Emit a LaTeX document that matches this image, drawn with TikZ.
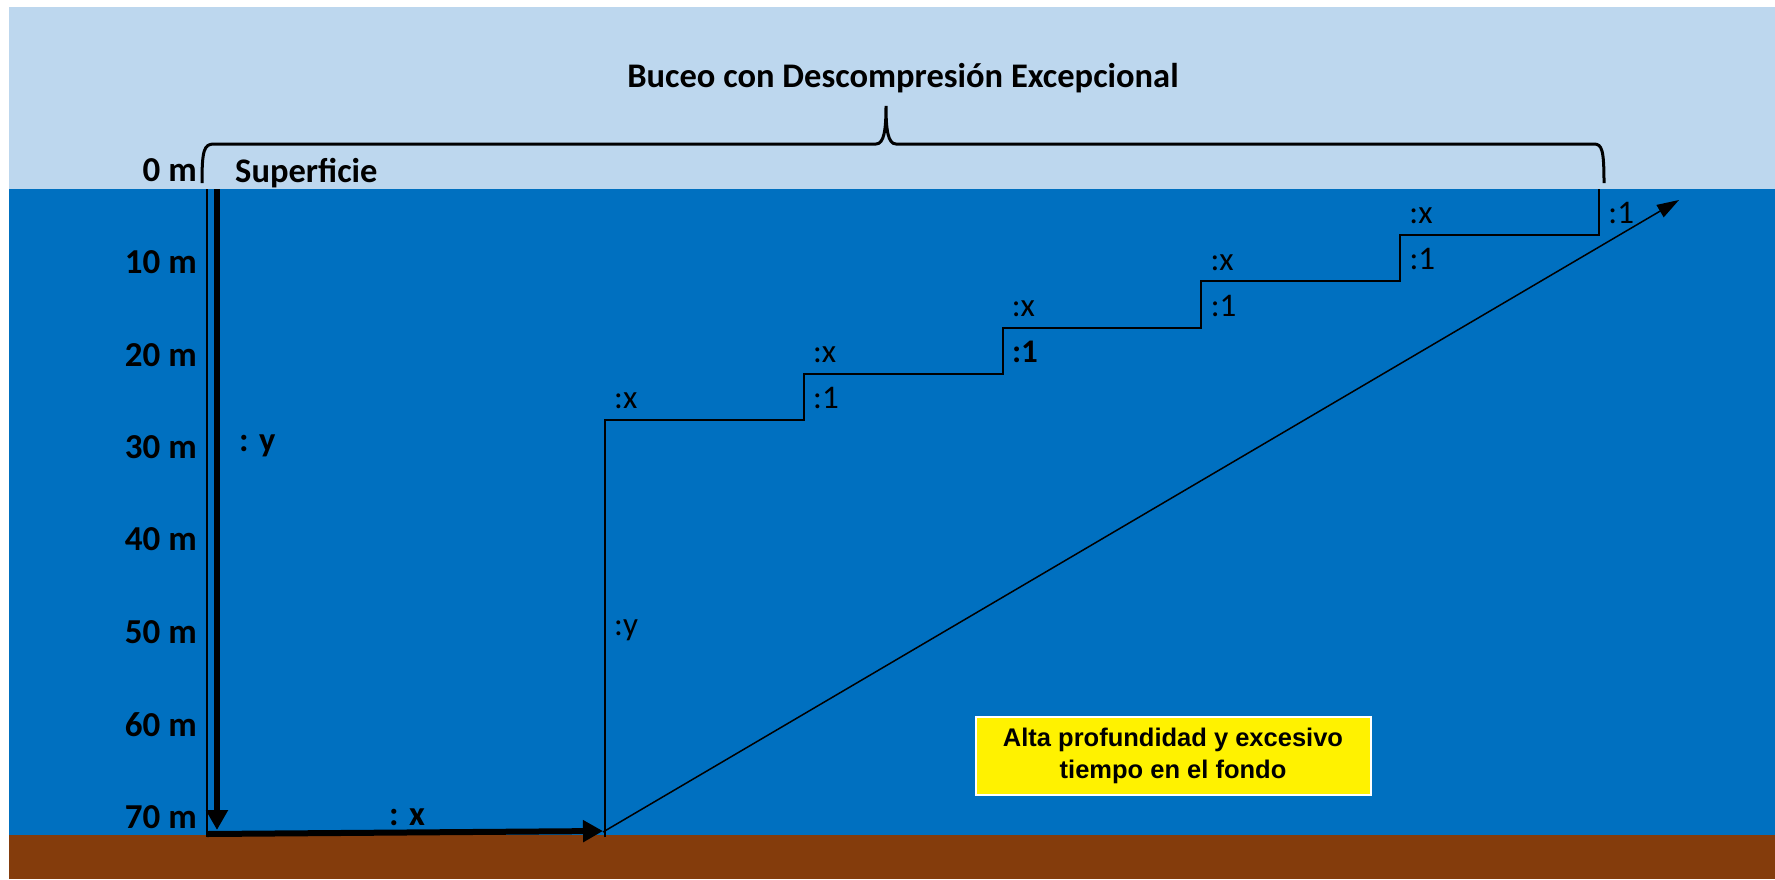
\documentclass[tikz,border=0pt]{standalone}
\usepackage{fontspec}
\setmainfont{Carlito}
\newfontfamily\boxfont{Liberation Sans}
\usetikzlibrary{arrows.meta}
\definecolor{skyblue}{RGB}{189,215,238}
\definecolor{seablue}{RGB}{0,112,192}
\definecolor{seabed}{RGB}{132,60,12}

\begin{document}
\begin{tikzpicture}[x=1pt, y=-1pt,
  depthlabel/.style={anchor=east, inner sep=0pt, font=\fontsize{35}{40}\selectfont\bfseries},
  stoplabel/.style={anchor=west, inner sep=0pt, font=\fontsize{33}{38}\selectfont},
  boldlabel/.style={inner sep=0pt, font=\fontsize{34.5}{40}\selectfont\bfseries},
  thickarrow/.style={line width=6pt, -{Triangle[length=20pt,width=21pt]}},
  stairline/.style={line width=2pt}]
  \useasboundingbox (0,0) rectangle (1775,879);
  % draw sky, water and seabed
  \fill[skyblue] (9,7) rectangle (1775,189);
  \fill[seablue] (9,189) rectangle (1775,835);
  \fill[seabed] (9,835) rectangle (1775,879);

  % title and brace
  \node[boldlabel] (title) at (903,78) {Buceo con Descompresión Excepcional};
  \draw[line width=3pt] (202,183) .. controls (202,150) and (204,144) .. (214,144) -- (876,144)
    .. controls (884,144) and (886,130) .. (886,106) .. controls (886,130) and (888,144) .. (896,144)
    -- (1594,144) .. controls (1602,144) and (1604,150) .. (1604,183);
  \node[boldlabel, anchor=west] (surface) at (235,173) {Superficie};

  % depth scale
  \foreach \d [count=\k from 0] in {0,10,...,70}
    \node[depthlabel] (depth\d) at (197,{170+92.4*\k}) {\d\ m};

  % descent and bottom time
  \coordinate (left top) at (207,189);
  \coordinate (left bot) at (207,837);
  \draw[line width=2pt] (left top) -- (left bot);
  \coordinate (surf) at (217,189);
  \coordinate (bottom) at (217,830);
  \draw[thickarrow] (surf) -- (bottom);
  \node[boldlabel, anchor=west] (ylabel) at (239,446) {: y};
  \coordinate (b0) at (207,834);
  \coordinate (b1) at (603,831);
  \draw[thickarrow] (b0) -- (b1);
  \node[boldlabel] (xlabel) at (407,817) {: x};

  % decompression stops
  \coordinate (base) at (605,837);
  \foreach \i in {0,...,5}
    \coordinate (c\i) at ({605+198.8*\i},{420-46.2*\i});
  \draw[stairline] (base) -- (c0) -| (c1) -| (c2) -| (c3) -| (c4) -| (c5);
  \foreach \i in {0,...,4}
    \node[stoplabel] (stopx\i) at ({614+198.8*\i},{401-46.2*\i}) {:x};
  \foreach \i in {0,2,3,4}
    \node[stoplabel] (stopone\i) at ({813+198.8*\i},{398-46.2*\i}) {:1};
  \node[stoplabel, font=\fontsize{33}{38}\selectfont\bfseries] (stopone1) at ({813+198.8},{398-46.2}) {:1};
  \node[stoplabel] (stopy) at (614,630) {:y};

  % direct ascent
  \coordinate (d0) at (603,832);
  \coordinate (d1) at (1679,200);
  \draw[line width=1.5pt, -{Triangle[length=22pt,width=14pt]}] (d0) -- (d1);

  \node[fill=yellow, draw=white, line width=2pt, minimum width=395pt, minimum height=78pt,
    align=center, font=\boxfont\fontsize{25.5}{32}\selectfont\bfseries] (warning) at (1173,756)
    {Alta profundidad y excesivo\\tiempo en el fondo};
\end{tikzpicture}
\end{document}
